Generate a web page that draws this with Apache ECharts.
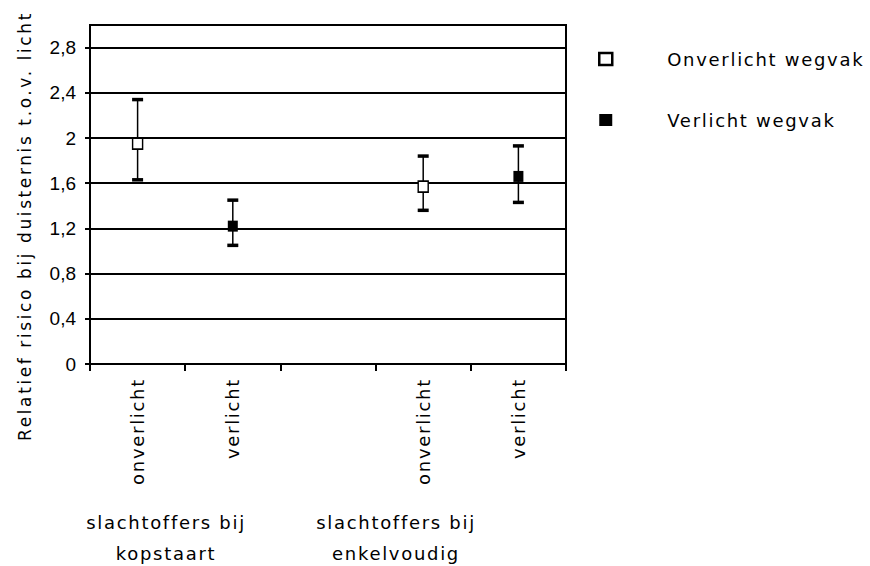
<!DOCTYPE html>
<html>
<head>
<meta charset="utf-8">
<script src="https://cdn.jsdelivr.net/npm/echarts@6/dist/echarts.min.js"></script>
<style>
  html, body { margin: 0; padding: 0; background: #fff; }
  #c { width: 870px; height: 566px; }
  #c text { letter-spacing: 1.7px; }
  #c text[style*="17px"], #c text[font-size="17px"], #c text[font-size="17"] { letter-spacing: 2.6px; }
  #c text[style*="Liberation"], #c text[font-family*="Liberation"] { letter-spacing: 0; }
</style>
</head>
<body>
<div id="c"></div>
<script>
// ---- data ----
const categories = ['onverlicht', 'verlicht', '', 'onverlicht', 'verlicht'];
const onverlichtValues = [1.95, null, null, 1.57, null];
const verlichtValues = [null, 1.22, null, null, 1.66];
const lowerBounds = [1.63, 1.05, null, 1.36, 1.43];
const upperBounds = [2.34, 1.45, null, 1.84, 1.93];
const seriesNames = ['Onverlicht wegvak', 'Verlicht wegvak'];
const groupLabels = ['slachtoffers bij\nkopstaart', 'slachtoffers bij\nenkelvoudig'];
const yTitle = 'Relatief risico bij duisternis t.o.v. licht';
const yMin = 0, yMax = 3.0, yStep = 0.4;

const FONT = 'DejaVu Sans';
const chart = echarts.init(document.getElementById('c'), null, { renderer: 'svg' });

const errData = [];
categories.forEach((c, i) => {
  if (lowerBounds[i] != null) errData.push([i, lowerBounds[i], upperBounds[i]]);
});

chart.setOption({
  animation: false,
  backgroundColor: '#fff',
  grid: { left: 90, right: 304, top: 25, bottom: 202, show: true, borderColor: '#000', borderWidth: 2, backgroundColor: 'transparent' },
  xAxis: {
    type: 'category',
    data: categories,
    boundaryGap: true,
    axisLine: { lineStyle: { color: '#000', width: 2 } },
    axisTick: { show: true, length: 7, interval: 0, lineStyle: { color: '#000', width: 2 } },
    axisLabel: { rotate: 90, interval: 0, margin: 14, color: '#000', fontSize: 18, fontFamily: FONT },
    splitLine: { show: false }
  },
  yAxis: {
    type: 'value',
    min: yMin, max: yMax, interval: yStep,
    axisLine: { show: true, lineStyle: { color: '#000', width: 2 } },
    axisTick: { show: true, length: 5, lineStyle: { color: '#000', width: 2 } },
    axisLabel: {
      showMaxLabel: false, margin: 14, color: '#000', fontSize: 19, fontFamily: 'Liberation Sans',
      formatter: v => String(+v.toFixed(1)).replace('.', ',')
    },
    splitLine: { show: true, lineStyle: { color: '#000', width: 2 } }
  },
  legend: {
    orient: 'vertical',
    left: 593, top: 45,
    itemWidth: 13, itemHeight: 12, itemGap: 43,
    selectedMode: false,
    textStyle: { color: '#000', fontSize: 18, fontFamily: FONT, lineHeight: 18, padding: [0, 0, 0, 50] },
    data: [
      { name: seriesNames[0], icon: 'rect', itemStyle: { color: '#fff', borderColor: '#000', borderWidth: 2.5 } },
      { name: seriesNames[1], icon: 'rect', itemStyle: { color: '#000', borderWidth: 0 } }
    ]
  },
  graphic: [
    { type: 'text', x: 25, y: 226, rotation: Math.PI / 2, style: { text: yTitle, fill: '#000', font: '17px "DejaVu Sans"', align: 'center', verticalAlign: 'middle' } },
    { type: 'text', x: 166, y: 538, style: { text: groupLabels[0], fill: '#000', font: '18px "DejaVu Sans"', align: 'center', verticalAlign: 'middle', lineHeight: 31 } },
    { type: 'text', x: 396, y: 538, style: { text: groupLabels[1], fill: '#000', font: '18px "DejaVu Sans"', align: 'center', verticalAlign: 'middle', lineHeight: 31 } }
  ],
  series: [
    {
      type: 'custom',
      name: 'error',
      data: errData,
      encode: { x: 0, y: [1, 2] },
      z: 2,
      silent: true,
      renderItem: function (params, api) {
        const idx = api.value(0);
        const lo = api.coord([idx, api.value(1)]);
        const hi = api.coord([idx, api.value(2)]);
        const hw = 5.5;
        const st = { stroke: '#000', lineWidth: 1.5 };
        const cap = { stroke: '#000', lineWidth: 3.5 };
        return {
          type: 'group',
          children: [
            { type: 'line', shape: { x1: lo[0], y1: lo[1], x2: hi[0], y2: hi[1] }, style: st },
            { type: 'line', shape: { x1: lo[0] - hw, y1: lo[1], x2: lo[0] + hw, y2: lo[1] }, style: cap },
            { type: 'line', shape: { x1: hi[0] - hw, y1: hi[1], x2: hi[0] + hw, y2: hi[1] }, style: cap }
          ]
        };
      }
    },
    {
      type: 'scatter',
      name: seriesNames[0],
      data: onverlichtValues.map(v => v == null ? '-' : v),
      symbol: 'rect', symbolSize: [10, 11],
      itemStyle: { color: '#fff', borderColor: '#000', borderWidth: 1.5, opacity: 1 },
      z: 3, silent: true
    },
    {
      type: 'scatter',
      name: seriesNames[1],
      data: verlichtValues.map(v => v == null ? '-' : v),
      symbol: 'rect', symbolSize: [10, 11],
      itemStyle: { color: '#000', opacity: 1 },
      z: 3, silent: true
    }
  ]
});
</script>
</body>
</html>
